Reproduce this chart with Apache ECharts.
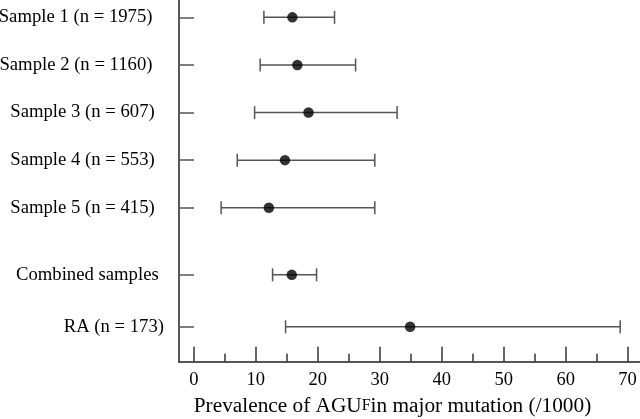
<!DOCTYPE html>
<html>
<head>
<meta charset="utf-8">
<script src="https://cdn.jsdelivr.net/npm/echarts@6/dist/echarts.min.js"></script>
<style>html,body{margin:0;padding:0;background:#fff;}#c{width:640px;height:419px;}</style>
</head>
<body>
<div id="c"></div>
<script>
var categories = ['Sample 1 (n = 1975)', 'Sample 2 (n = 1160)', 'Sample 3 (n = 607)', 'Sample 4 (n = 553)', 'Sample 5 (n = 415)', 'Combined samples', 'RA (n = 173)'];
var estimate = [15.9, 16.7, 18.5, 14.7, 12.1, 15.8, 34.9];
var lower = [11.3, 10.7, 9.8, 7.0, 4.4, 12.7, 14.8];
var upper = [22.7, 26.1, 32.8, 29.2, 29.2, 19.8, 68.8];
var xTicks = [0, 10, 20, 30, 40, 50, 60, 70];
var xMinorTicks = [5, 15, 25, 35, 45, 55, 65];

// row layout (vertical slot of each category on the y scale)
var rowPos = [1, 2, 3, 4, 5, 6.41, 7.5];
var labelPad = [11.5, 11.5, 9.3, 9.3, 9.3, 5.3, 0];

var FONT = '"Liberation Serif", "Times New Roman", serif';
var rich = {};
labelPad.forEach(function (p, i) {
  rich['r' + i] = { fontFamily: FONT, fontSize: 18.7, color: '#000', padding: [0, p, 0, 0] };
});

var pointData = estimate.map(function (v, i) { return [v, rowPos[i]]; });
var barData = estimate.map(function (v, i) { return [lower[i], upper[i], rowPos[i]]; });

var chart = echarts.init(document.getElementById('c'), null, { renderer: 'canvas' });
chart.setOption({
  animation: false,
  backgroundColor: '#fff',
  grid: { left: 179, right: 0, top: 0, bottom: 57.3, containLabel: false, outerBoundsMode: 'none' },
  xAxis: [{
    type: 'value', min: -2.4, max: 72, position: 'bottom',
    axisLine: { show: true, onZero: false, lineStyle: { color: '#222', width: 1.5 } },
    axisTick: { show: true, inside: true, length: 15, customValues: xTicks, lineStyle: { color: '#333', width: 1.5 } },
    axisLabel: { show: true, customValues: xTicks, margin: 9, fontFamily: FONT, fontSize: 18.5, color: '#000' },
    splitLine: { show: false },
    name: '{n|Prevalence of AGU}{s|F}{n|in major mutation (/1000)}',
    nameLocation: 'middle', nameGap: 34,
    nameTextStyle: {
      padding: [0, 34, 0, 0],
      rich: {
        n: { fontFamily: FONT, fontSize: 21.3, color: '#000' },
        s: { fontFamily: FONT, fontSize: 16, color: '#000' }
      }
    }
  }, {
    type: 'value', min: -2.4, max: 72, position: 'bottom',
    axisLine: { show: false, onZero: false },
    axisTick: { show: true, inside: true, length: 8, customValues: xMinorTicks, lineStyle: { color: '#333', width: 1.5 } },
    axisLabel: { show: false },
    splitLine: { show: false }
  }],
  yAxis: {
    type: 'value', inverse: true, min: 0.635, max: 8.235, position: 'left',
    axisLine: { show: true, onZero: false, lineStyle: { color: '#222', width: 1.5 } },
    axisTick: { show: true, inside: true, length: 15, customValues: rowPos, lineStyle: { color: '#555', width: 1.5 } },
    axisLabel: {
      show: true, customValues: rowPos, margin: 15,
      formatter: function (v) {
        var i = rowPos.indexOf(v);
        if (i < 0) { return ''; }
        return '{r' + i + '|' + categories[i] + '}';
      },
      rich: rich
    },
    splitLine: { show: false }
  },
  series: [{
    type: 'custom',
    data: barData,
    renderItem: function (params, api) {
      var y = api.value(2);
      var a = api.coord([api.value(0), y]);
      var b = api.coord([api.value(1), y]);
      var h = 6.5;
      var st = { stroke: '#555', lineWidth: 1.5 };
      return {
        type: 'group',
        children: [
          { type: 'line', shape: { x1: a[0], y1: a[1], x2: b[0], y2: b[1] }, style: st },
          { type: 'line', shape: { x1: a[0], y1: a[1] - h, x2: a[0], y2: a[1] + h }, style: st },
          { type: 'line', shape: { x1: b[0], y1: b[1] - h, x2: b[0], y2: b[1] + h }, style: st }
        ]
      };
    },
    encode: { x: [0, 1], y: 2 },
    z: 2
  }, {
    type: 'scatter',
    data: pointData,
    symbol: 'circle',
    symbolSize: 10.5,
    itemStyle: { color: '#000' },
    z: 3
  }]
});
</script>
</body>
</html>
